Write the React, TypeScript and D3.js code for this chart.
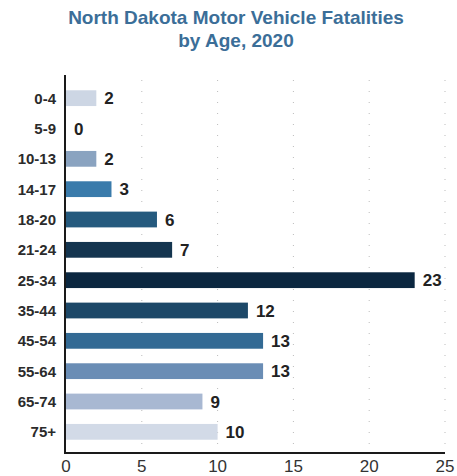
import { useEffect, useRef } from 'react';
import * as d3 from 'd3';

const ageGroups = ['0-4', '5-9', '10-13', '14-17', '18-20', '21-24', '25-34', '35-44', '45-54', '55-64', '65-74', '75+'];
const fatalities = [2, 0, 2, 3, 6, 7, 23, 12, 13, 13, 9, 10];
const barColors = ['#cdd6e4', '#cdd6e4', '#8aa3c0', '#3a7bab', '#255a7e', '#14354f', '#0b2740', '#1d4868', '#336a94', '#6a8db5', '#a8b8d2', '#d2dae7'];
const xTicks = [0, 5, 10, 15, 20, 25];
const titleLines = ['North Dakota Motor Vehicle Fatalities', 'by Age, 2020'];

export default function App() {
  const svgRef = useRef<SVGSVGElement>(null);

  useEffect(() => {
    // @ts-ignore
    const svg = d3.select<SVGSVGElement, unknown>(svgRef.current);
    svg.selectAll('*').remove();

    const left = 66;
    const right = 445;
    const top = 83;
    const bottom = 447;
    const axisY = 453;

    const x = d3.scaleLinear().domain([0, 25]).range([left, right]);
    const y = d3.scaleBand().domain(ageGroups).range([top, bottom]).paddingInner(0.48).paddingOuter(0.24);

    // title
    svg.append('g')
      .selectAll('text')
      .data(titleLines)
      .enter()
      .append('text')
      .attr('x', 236)
      .attr('y', (d, i) => 24 + i * 23)
      .attr('text-anchor', 'middle')
      .attr('font-family', 'Liberation Sans, Arial, sans-serif')
      .attr('font-weight', 'bold')
      .attr('font-size', 19)
      .attr('fill', '#3b6e98')
      .text(d => d);

    // dotted gridlines
    svg.append('g')
      .selectAll('line')
      .data(xTicks.slice(1))
      .enter()
      .append('line')
      .attr('x1', d => x(d))
      .attr('x2', d => x(d))
      .attr('y1', 80)
      .attr('y2', axisY)
      .attr('stroke', '#bbbbbb')
      .attr('stroke-width', 1)
      .attr('stroke-dasharray', '1,10');

    // bars
    svg.append('g')
      .selectAll('rect')
      .data(fatalities)
      .enter()
      .append('rect')
      .attr('x', left)
      .attr('y', (d, i) => y(ageGroups[i]) as number)
      .attr('width', d => x(d) - left)
      .attr('height', y.bandwidth())
      .attr('fill', (d, i) => barColors[i]);

    // value labels
    svg.append('g')
      .selectAll('text')
      .data(fatalities)
      .enter()
      .append('text')
      .attr('x', d => x(d) + 8)
      .attr('y', (d, i) => (y(ageGroups[i]) as number) + y.bandwidth() / 2)
      .attr('dy', '0.36em')
      .attr('font-family', 'Liberation Sans, Arial, sans-serif')
      .attr('font-weight', 'bold')
      .attr('font-size', 17)
      .attr('fill', '#222222')
      .text(d => d);

    // category labels
    svg.append('g')
      .selectAll('text')
      .data(ageGroups)
      .enter()
      .append('text')
      .attr('x', 56)
      .attr('y', d => (y(d) as number) + y.bandwidth() / 2)
      .attr('dy', '0.36em')
      .attr('text-anchor', 'end')
      .attr('font-family', 'Liberation Sans, Arial, sans-serif')
      .attr('font-weight', 'bold')
      .attr('font-size', 15)
      .attr('fill', '#2b2b2b')
      .text(d => d);

    // axes lines
    svg.append('line')
      .attr('x1', left - 1).attr('x2', left - 1)
      .attr('y1', 75).attr('y2', axisY + 1)
      .attr('stroke', '#1a1a1a').attr('stroke-width', 2);
    svg.append('line')
      .attr('x1', left - 2).attr('x2', right)
      .attr('y1', axisY).attr('y2', axisY)
      .attr('stroke', '#1a1a1a').attr('stroke-width', 2);

    // x tick labels
    svg.append('g')
      .selectAll('text')
      .data(xTicks)
      .enter()
      .append('text')
      .attr('x', d => x(d))
      .attr('y', 472)
      .attr('text-anchor', 'middle')
      .attr('font-family', 'Liberation Sans, Arial, sans-serif')
      .attr('font-size', 17)
      .attr('fill', '#333333')
      .text(d => d);
  }, []);

  return (
    <svg
      ref={svgRef}
      width={457}
      height={476}
      style={{ position: 'absolute', top: 0, left: 0, background: '#ffffff' }}
    />
  );
}
